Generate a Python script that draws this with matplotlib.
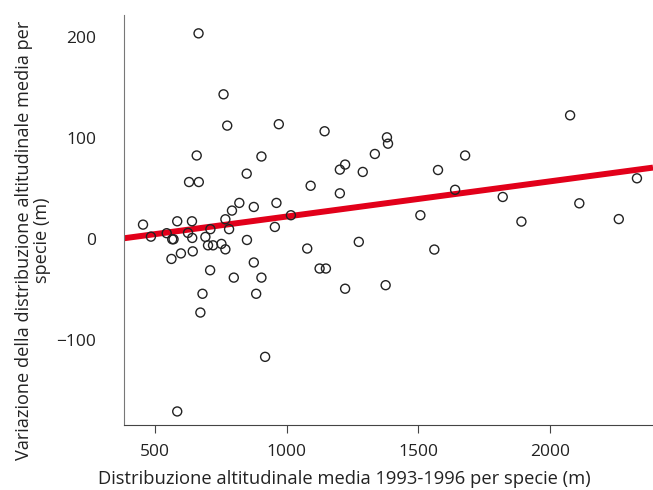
import matplotlib
matplotlib.use('Agg')
import matplotlib.pyplot as plt
import numpy as np

plt.rcParams['font.family'] = ['Open Sans', 'DejaVu Sans']

# altitudine media 1993-1996 (m) e variazione (m) per specie
alt_media = [665, 760, 774, 970, 1144, 1381, 1385, 658, 904, 1335,
             1222, 1202, 1289, 848, 629, 666, 1091, 1202, 820, 961,
             875, 792, 1016, 454, 584, 640, 767, 484, 544, 625,
             565, 570, 641, 710, 691, 781, 955, 701, 720, 752,
             767, 849, 643, 598, 562, 709, 875, 799, 904, 680,
             884, 672, 918, 584, 1078, 1125, 1149, 1274, 1222, 1376,
             2077, 1678, 1575, 1640, 1821, 1508, 1892, 2112, 2262, 2331,
             1561]
variazione = [204, 143.6, 112.6, 114, 107, 101, 94.7, 83, 82, 84.5,
              74, 69, 66.7, 65, 56.7, 56.7, 53, 45.5, 36, 36,
              32, 28.4, 23.8, 14.5, 17.8, 17.8, 19.8, 2.6, 6, 6.3,
              0, 0, 1.3, 10, 2.3, 10, 12.2, -6, -6, -4.6,
              -10, -0.7, -12, -14, -19.5, -30.7, -23, -38, -38, -54,
              -54, -72.6, -116.5, -170.6, -9.2, -29, -29, -2.6, -49, -45.5,
              122.8, 83, 68.6, 49, 41.9, 23.8, 17.5, 35.6, 20, 60.4,
              -10.2]

# retta di regressione
retta_x = [382, 2392]
retta_y = [1, 71]

fig = plt.figure(figsize=(6.53, 4.9), dpi=100)
ax = fig.add_axes([0.19, 0.1327, 0.81, 0.8363])

ax.plot(retta_x, retta_y, color='#e2001a', lw=4.3, solid_capstyle='butt', zorder=2)
ax.scatter(alt_media, variazione, s=42, facecolors='none', edgecolors='#222222',
           linewidths=1.0, zorder=3)

ax.set_xlim(382, 2392)
ax.set_ylim(-184, 222)
ax.set_xticks([500, 1000, 1500, 2000])
ax.set_yticks([-100, 0, 100, 200])
ax.set_yticklabels(['\u2212100', '0', '100', '200'])

for s in ['top', 'right']:
    ax.spines[s].set_visible(False)
ax.spines['left'].set_color('#777777')
ax.spines['bottom'].set_color('#444444')
ax.tick_params(axis='y', length=0, pad=20, labelsize=12.5, colors='#222222')
ax.tick_params(axis='x', length=6, width=0.8, color='#444444', pad=8,
               labelsize=12.5, labelcolor='#222222')

ax.set_xlabel('Distribuzione altitudinale media 1993-1996 per specie (m)',
              fontsize=13.2, color='#222222')
ax.xaxis.set_label_coords(0.416, -0.11)
ax.set_ylabel('Variazione della distribuzione altitudinale media per\nspecie (m)',
              fontsize=13.1, color='#222222', linespacing=1.0)
ax.yaxis.set_label_coords(-0.138, 0.451)

fig.savefig('out.png', dpi=100)
